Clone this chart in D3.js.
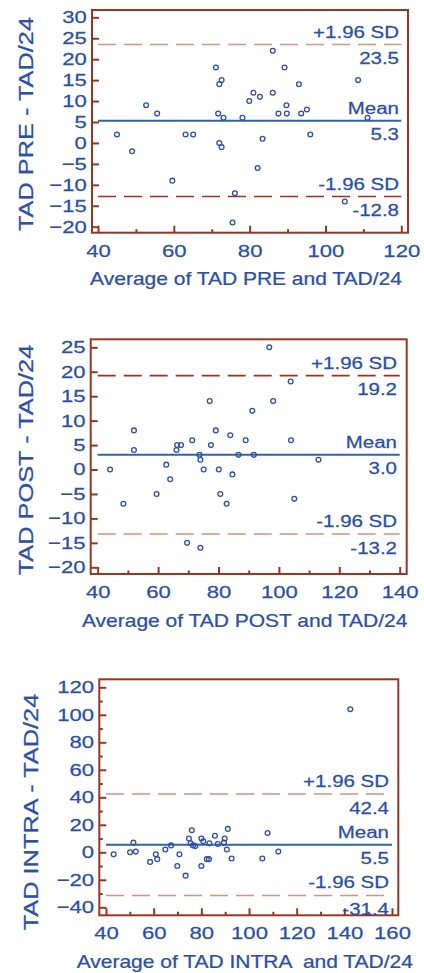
<!DOCTYPE html>
<html>
<head>
<meta charset="utf-8">
<script src="https://cdn.jsdelivr.net/npm/d3@7"></script>
<style>
  body { margin: 0; background: #fff; }
  svg text { font-family: "Liberation Sans", Arial, sans-serif; fill: #2b50a5; stroke: #2b50a5; stroke-width: 0.25px; }
</style>
</head>
<body>
<div id="chart"></div>
<script>
// Bland-Altman data
var pre_avg  = [45.0, 49.0, 52.7, 55.6, 59.6, 63.1, 65.1, 71.1, 71.7, 72.0, 72.6, 73.1, 72.0, 72.6, 76.1, 75.5, 78.1, 79.9,
                81.0, 82.7, 83.4, 82.1, 86.1, 86.1, 89.2, 89.7, 87.6, 89.8, 93.0, 93.6, 95.1, 96.0, 108.6, 111.1, 105.1];
var pre_diff = [2, -2, 9, 7, -9, 2, 2, 18, 7, 14, 15, 6, 0, -1, -12, -19, 6, 10,
                12, 11, 1, -6, 22, 12, 18, 9, 7, 7, 14, 7, 8, 2, 15, 6, -14];
var pre_stats = [23.5, 5.3, -12.8];

var post_avg  = [44.1, 48.5, 52.0, 52.0, 59.5, 62.7, 64.0, 66.1, 66.3, 67.6, 69.6, 71.3, 73.7, 74.0, 74.0, 75.1, 77.1,
                 77.5, 79.1, 80.1, 80.6, 82.7, 83.9, 84.6, 86.6, 89.0, 91.2, 91.7, 98.1, 96.8, 103.9, 104.0, 105.1, 113.1];
var post_diff = [0, -7, 8, 4, -5, 1, -2, 4, 5, 5, -15, 6, 3, 2, -16, 0, 14,
                 5, 8, 0, -5, -7, 7, -1, 3, 6, 12, 3, 14, 25, 18, 6, -6, 2];
var post_stats = [19.2, 3.0, -13.2];

var intra_avg  = [43.2, 50.1, 51.5, 52.5, 58.5, 60.9, 61.5, 64.9, 67.3, 70.8, 69.9, 73.4, 76.0, 74.8, 75.5, 76.5, 77.5,
                  80.0, 80.8, 83.4, 85.7, 86.9, 89.5, 89.8, 91.1, 90.7, 80.0, 82.3, 83.2, 92.7, 105.6, 107.8, 112.3, 142.5];
var intra_diff = [-1.5, 0, 7, 0.5, -7, -1.5, -5, 2, 5, -1.5, -10, -17, 16, 10, 6.5, 5, 4.5,
                  10, 8, 6.5, 12, 6, 7, 10, 17, 2, -10, -5, -5, -4.5, -4.5, 14, 0.5, 104];
var intra_stats = [42.4, 5.5, -31.4];

var stat_labels = ["+1.96 SD", "Mean", "-1.96 SD"];

var pre_xticks = [40, 60, 80, 100, 120];
var post_xticks = [40, 60, 80, 100, 120, 140];
var intra_xticks = [40, 60, 80, 100, 120, 140, 160];
var pre_yticks = [-20, -15, -10, -5, 0, 5, 10, 15, 20, 25, 30];
var post_yticks = [-20, -15, -10, -5, 0, 5, 10, 15, 20, 25];
var intra_yticks = [-40, -20, 0, 20, 40, 60, 80, 100, 120];

var width = 424;
var height = 973;

var frameCol = "#9a3522";
var blue = "#2b50a5";
var lineBlue = "#2f62b3";
var darkDash = "#a3301f";
var lightDash = "#d39282";
var stretch = 1.3;

var panels = [
  { avg: pre_avg, diff: pre_diff, stats: pre_stats, xticks: pre_xticks, yticks: pre_yticks,
    xminor: [50, 70, 90, 110], yminor: [],
    xrange: [98, 401.3], yrange: [226.7, 17.3], box: [92, 10, 408, 232.7],
    dash: [lightDash, darkDash], labelX: 399, ytitlePos: [33, 124],
    xtitle: "Average of TAD PRE and TAD/24", ytitle: "TAD PRE - TAD/24" },
  { avg: post_avg, diff: post_diff, stats: post_stats, xticks: post_xticks, yticks: post_yticks,
    xminor: [50, 70, 90, 110, 130], yminor: [],
    xrange: [97.7, 399.7], yrange: [567.3, 347.3], box: [90.7, 339.3, 406.7, 574],
    dash: [darkDash, lightDash], labelX: 397, ytitlePos: [33, 460],
    xtitle: "Average of TAD POST and TAD/24", ytitle: "TAD POST - TAD/24" },
  { avg: intra_avg, diff: intra_diff, stats: intra_stats, xticks: intra_xticks, yticks: intra_yticks,
    xminor: [50, 70, 90, 110, 130, 150], yminor: [-30, -10, 10, 30, 50, 70, 90, 110],
    xrange: [106, 392], yrange: [907.3, 687.3], box: [99.3, 679.3, 398.3, 915.3],
    dash: [lightDash, lightDash], labelX: 389, ytitlePos: [38, 812],
    xtitle: "Average of TAD INTRA  and TAD/24", ytitle: "TAD INTRA - TAD/24" }
];

var svg = d3.select("#chart")
  .append("svg")
  .attr("width", width)
  .attr("height", height);

svg.append("rect").attr("width", width).attr("height", height).attr("fill", "#fff");

panels.forEach(function (p) {
  drawPanel(p);
});

function addText(g, x, y, str, size, anchor, sx, rotate) {
  g.append("text")
    .attr("transform", "translate(" + x + "," + y + ")" + (rotate ? " rotate(-90)" : "") + " scale(" + sx + ",1)")
    .attr("text-anchor", anchor)
    .style("font-size", size + "px")
    .style("white-space", "pre")
    .text(str);
}

function drawPanel(p) {
  var g = svg.append("g");
  var xt = p.xticks, yt = p.yticks;

  var x = d3.scaleLinear().domain([xt[0], xt[xt.length - 1]]).range(p.xrange);
  var y = d3.scaleLinear().domain([yt[0], yt[yt.length - 1]]).range(p.yrange);

  // axes, ticks pointing into the frame
  var xAxis = g.append("g")
    .attr("transform", "translate(0," + p.box[3] + ")")
    .call(d3.axisBottom(x).tickValues(xt).tickSize(-7).tickPadding(12));
  g.append("g")
    .attr("transform", "translate(0," + p.box[3] + ")")
    .call(d3.axisBottom(x).tickValues(p.xminor).tickSize(-3.5).tickFormat(""));
  var yAxis = g.append("g")
    .attr("transform", "translate(" + p.box[0] + ",0)")
    .call(d3.axisLeft(y).tickValues(yt).tickSize(-7).tickPadding(4));
  if (p.yminor.length) {
    g.append("g")
      .attr("transform", "translate(" + p.box[0] + ",0)")
      .call(d3.axisLeft(y).tickValues(p.yminor).tickSize(-3.5).tickFormat(""));
  }

  g.selectAll(".domain").remove();
  g.selectAll(".tick line").attr("stroke", frameCol).attr("stroke-width", 2);

  g.selectAll(".tick text")
    .attr("transform", "scale(" + stretch + ",1)")
    .attr("fill", blue)
    .style("font-size", "17px")
    .style("font-family", "'Liberation Sans', Arial, sans-serif");

  // frame
  g.append("rect")
    .attr("x", p.box[0])
    .attr("y", p.box[1])
    .attr("width", p.box[2] - p.box[0])
    .attr("height", p.box[3] - p.box[1])
    .attr("fill", "none")
    .attr("stroke", frameCol)
    .attr("stroke-width", 2);

  var x0 = x(xt[0]), x1 = x(xt[xt.length - 1]);

  // limits of agreement and mean
  p.stats.forEach(function (v, i) {
    g.append("line")
      .attr("x1", x0).attr("x2", x1)
      .attr("y1", y(v)).attr("y2", y(v))
      .attr("stroke", i == 1 ? lineBlue : (i == 0 ? p.dash[0] : p.dash[1]))
      .attr("stroke-width", i == 1 ? 2 : 1.6)
      .attr("stroke-dasharray", i == 1 ? null : "18,8");
    addText(g, p.labelX, y(v) - 7, stat_labels[i], 16, "end", 1.28);
    addText(g, p.labelX, y(v) + 19.5, v.toFixed(1), 16, "end", 1.28);
  });

  // points
  g.selectAll("circle")
    .data(p.avg)
    .join("circle")
    .attr("cx", (d) => x(d))
    .attr("cy", (d, i) => y(p.diff[i]))
    .attr("r", 2.4)
    .attr("fill", "none")
    .attr("stroke", blue)
    .attr("stroke-width", 1.3);

  // titles
  addText(g, (p.box[0] + p.box[2]) / 2 - 4, p.box[3] + 52.5, p.xtitle, 17.5, "middle", 1.2);
  addText(g, p.ytitlePos[0], p.ytitlePos[1], p.ytitle, 19.5, "middle", 1.3, true);
}
</script>
</body>
</html>
